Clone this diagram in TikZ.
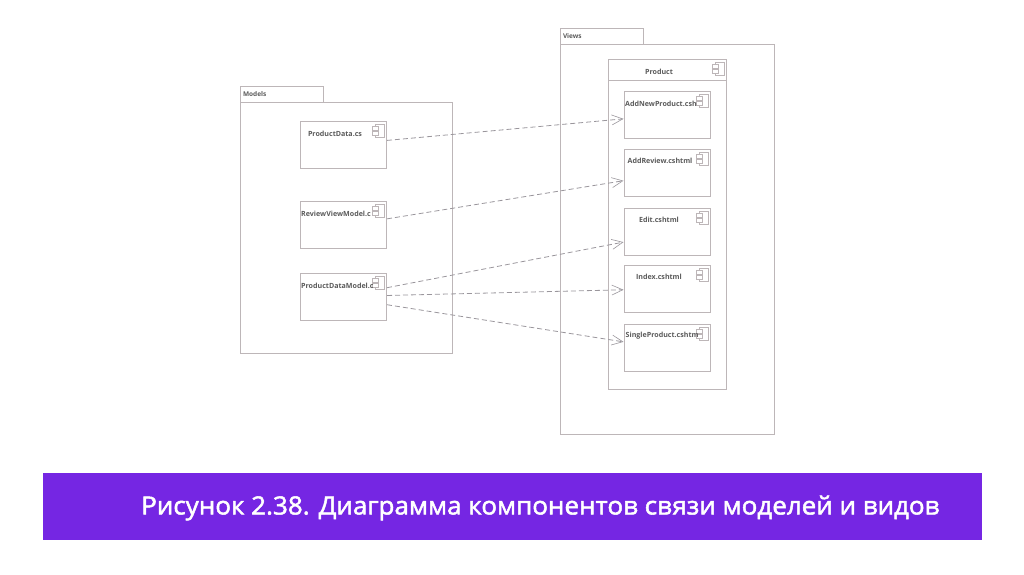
\documentclass[tikz,border=0pt]{standalone}
\usepackage{fontspec}
\setmainfont{Open Sans}
\newfontfamily\captionfont[FakeBold=2,FakeStretch=1.04]{Open Sans}
\usetikzlibrary{arrows.meta,calc,positioning}
\definecolor{BoxLine}{HTML}{BDB6B8}
\definecolor{ArrowLine}{HTML}{9A969C}
\definecolor{LabelGrey}{HTML}{5A5A5A}
\definecolor{Banner}{HTML}{7526E3}
\tikzset{
  package/.style={draw=BoxLine, line width=1pt, anchor=north west, inner sep=0pt},
  pkgtab/.style={package, font=\fontsize{6.5}{8}\selectfont\bfseries, text=LabelGrey, align=left, text width=78pt, minimum height=16pt, text depth=0pt, inner xsep=2.5pt},
  compbox/.style={package, minimum width=86.5pt, minimum height=47pt},
  complabel/.style={font=\fontsize{7.1}{8}\selectfont\bfseries, text=LabelGrey, inner sep=0pt},
  depend/.style={ArrowLine, line width=0.8pt, dash pattern=on 5pt off 3pt, -{Straight Barb[length=11pt,width=10pt,line width=0.6pt]}},
}
% small component icon in the top right corner of a box
\newcommand{\compicon}[1]{%
  \draw[BoxLine, line width=0.8pt, fill=white] ($(#1.north east)+(-12,3)$) rectangle ($(#1.north east)+(-3,16)$);
  \draw[BoxLine, line width=0.8pt, fill=white] ($(#1.north east)+(-14.5,5.5)$) rectangle ($(#1.north east)+(-9,9.5)$);
  \draw[BoxLine, line width=0.8pt, fill=white] ($(#1.north east)+(-14.5,10.5)$) rectangle ($(#1.north east)+(-9,14.5)$);
}
\begin{document}
\begin{tikzpicture}[x=1pt, y=-1pt]
    \useasboundingbox (0,0) rectangle (1024,574);

    % Models package
    \node[pkgtab] (modelstab) at (240,86) {Models};
    \node[package, minimum width=212pt, minimum height=251pt] (models) at (240,102) {};
    \node[compbox] (productdata) at (299.5,121) {};
    \node[compbox] (reviewmodel) at (299.5,201) {};
    \node[compbox] (datamodel) at (299.5,273) {};

    % Views package
    \node[pkgtab] (viewstab) at (560,28) {Views};
    \node[package, minimum width=214pt, minimum height=390pt] (views) at (560,44) {};
    \node[package, minimum width=118pt, minimum height=330pt] (product) at (608,59) {};
    \draw[BoxLine, line width=1pt] (608,80.5) -- (726,80.5);
    \node[compbox] (addnew) at (623.5,91) {};
    \node[compbox] (addreview) at (623.5,149) {};
    \node[compbox] (edit) at (623.5,208) {};
    \node[compbox] (index) at (623.5,265) {};
    \node[compbox] (single) at (623.5,324) {};

    % Icons
    \compicon{productdata}
    \compicon{reviewmodel}
    \compicon{datamodel}
    \compicon{product}
    \compicon{addnew}
    \compicon{addreview}
    \compicon{edit}
    \compicon{index}
    \compicon{single}

    % Labels
    \node[complabel] (productlabel) at (659,71.5) {Product};
    \node[complabel] (datalabel) at (335,133.5) {ProductData.cs};
    \node[complabel, anchor=west] (reviewlabel) at (301,214) {ReviewViewModel.c};
    \node[complabel, anchor=west] (modellabel) at (301,286) {ProductDataModel.c};
    \node[complabel, anchor=west] (addnewlabel) at (625,104) {AddNewProduct.csh};
    \node[complabel] (addreviewlabel) at (660,161) {AddReview.cshtml};
    \node[complabel] (editlabel) at (659,220) {Edit.cshtml};
    \node[complabel] (indexlabel) at (659,277) {Index.cshtml};
    \node[complabel, anchor=west] (singlelabel) at (625.5,336) {SingleProduct.cshtm};

    % Dependencies
    \draw[depend] (productdata.6) -- (addnew.185);
    \draw[depend] (reviewmodel.8.5) -- (addreview.190);
    \draw[depend] (datamodel.12) -- (edit.193);
    \draw[depend] (datamodel.2) -- (index.181);
    \draw[depend] (datamodel.-10) -- (single.172);

    % Caption
    \node[fill=Banner, anchor=north west, minimum width=939pt, minimum height=67pt, inner sep=0pt] (banner) at (43,473) {};
    \node[anchor=west, text=white, font=\fontsize{25}{28}\captionfont, inner sep=0pt] (caption) at (141,508) {Рисунок 2.38. Диаграмма компонентов связи моделей и видов};
\end{tikzpicture}
\end{document}
